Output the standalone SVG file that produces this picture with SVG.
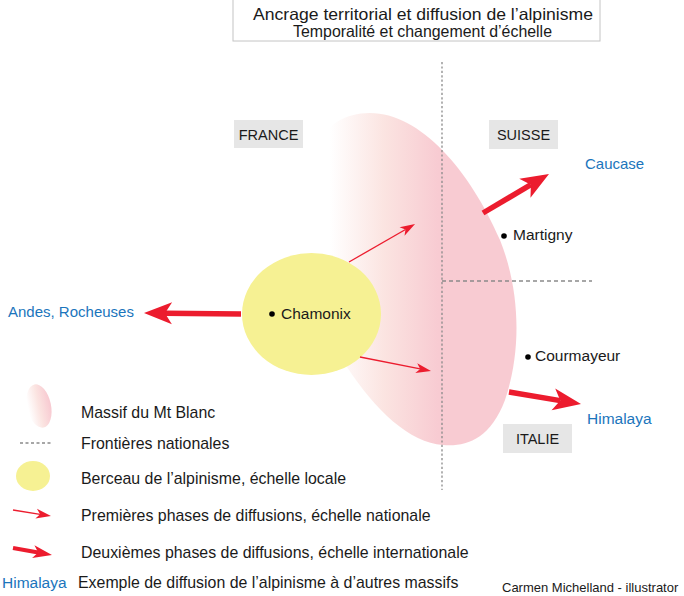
<svg xmlns="http://www.w3.org/2000/svg" width="684" height="596" viewBox="0 0 684 596">
<style>
text{font-family:"Liberation Sans",Arial,sans-serif;fill:#1a1a1a}
.lbl{font-size:15.5px}
.leg{font-size:15.9px}
.cap{font-size:14.5px}
.blue{fill:#1b75bc}
.box{fill:#e6e6e6}
.dot{fill:#000}
.thin{stroke:#ec1c2e;stroke-width:1.3;fill:none;marker-end:url(#headThin)}
.thick{stroke:#ec1c2e;stroke-width:5.5;fill:none;marker-end:url(#headThick)}
.border{stroke:#8a8a8a;stroke-width:1.3;fill:none}
</style>
<defs>
<linearGradient id="massifGrad" gradientUnits="userSpaceOnUse" x1="330" y1="0" x2="438" y2="0">
<stop offset="0" stop-color="#ffffff"/>
<stop offset="0.5" stop-color="#fbe4e1"/>
<stop offset="1" stop-color="#f8cbd2"/>
</linearGradient>
<linearGradient id="legGrad" gradientUnits="userSpaceOnUse" x1="28" y1="0" x2="50" y2="0">
<stop offset="0" stop-color="#ffffff"/>
<stop offset="0.5" stop-color="#fbe4e1"/>
<stop offset="1" stop-color="#f8cbd2"/>
</linearGradient>
<marker id="headThin" markerUnits="userSpaceOnUse" markerWidth="15" markerHeight="10" refX="4" refY="5" orient="auto" overflow="visible">
<path d="M15,5 L0,0 L4,5 L0,10 Z" fill="#ec1c2e"/>
</marker>
<marker id="headThick" markerUnits="userSpaceOnUse" markerWidth="28" markerHeight="22" refX="7" refY="11" orient="auto" overflow="visible">
<path d="M28,11 L0,0 L7,11 L0,22 Z" fill="#ec1c2e"/>
</marker>
<marker id="headLeg" markerUnits="userSpaceOnUse" markerWidth="19" markerHeight="13" refX="5" refY="6.5" orient="auto" overflow="visible">
<path d="M19,6.5 L0,0 L5,6.5 L0,13 Z" fill="#ec1c2e"/>
</marker>
</defs>

<g id="title">
<rect x="233" y="-1" width="367" height="42" fill="#fff" stroke="#c4c4c4" stroke-width="1"/>
<text x="253" y="20" textLength="340" lengthAdjust="spacingAndGlyphs" style="font-size:16.5px">Ancrage territorial et diffusion de l’alpinisme</text>
<text x="293" y="37" textLength="259" lengthAdjust="spacingAndGlyphs" style="font-size:16.5px">Temporalité et changement d’échelle</text>
</g>

<g id="massif">
<path d="M370,113 C420,113 470,170 500,240 C520,290 522,350 505,400 C490,440 465,447 443,445 C410,443 375,410 347,367 C320,330 300,270 300,220 C300,160 320,113 370,113 Z" fill="url(#massifGrad)"/>
</g>

<g id="borders">
<line class="border" x1="442" y1="62" x2="442" y2="490" stroke-dasharray="2.2 2.2"/>
<line class="border" x1="442" y1="281" x2="592" y2="281" stroke-dasharray="4 3"/>
</g>

<g id="chamonix">
<ellipse cx="311.5" cy="314" rx="69.5" ry="61" fill="#f6f193"/>
<circle class="dot" cx="272" cy="314" r="2.8"/>
<text class="lbl" x="281" y="319">Chamonix</text>
</g>

<g id="france">
<rect class="box" x="234" y="120" width="69" height="28"/>
<text class="cap" x="268.5" y="139.5" text-anchor="middle">FRANCE</text>
</g>
<g id="suisse">
<rect class="box" x="489" y="120" width="69" height="29"/>
<text class="cap" x="523.5" y="140" text-anchor="middle">SUISSE</text>
</g>
<g id="italie">
<rect class="box" x="503" y="424" width="69" height="29"/>
<text class="cap" x="537.5" y="444" text-anchor="middle">ITALIE</text>
</g>

<g id="martigny">
<circle class="dot" cx="504" cy="236" r="2.8"/>
<text class="lbl" x="513" y="240">Martigny</text>
</g>
<g id="courmayeur">
<circle class="dot" cx="528" cy="357" r="2.8"/>
<text class="lbl" x="535" y="361">Courmayeur</text>
</g>
<g id="caucase">
<text class="lbl blue" x="585" y="169" style="font-size:15px">Caucase</text>
</g>
<g id="himalaya">
<text class="lbl blue" x="587" y="424">Himalaya</text>
</g>
<g id="andes">
<text class="lbl blue" x="8" y="317" style="font-size:15px">Andes, Rocheuses</text>
</g>

<g id="connectors">
<line class="thin" x1="349" y1="262" x2="405.5" y2="229.5"/>
<line class="thin" x1="360" y1="357" x2="420.2" y2="368.9"/>
<line class="thick" x1="483" y1="213" x2="530.9" y2="184.7"/>
<line class="thick" x1="509" y1="392" x2="560.3" y2="400.6"/>
<line class="thick" x1="241" y1="314" x2="165" y2="313.2"/>
</g>

<g id="legend">
<ellipse cx="39" cy="406" rx="12" ry="22" transform="rotate(-12 39 406)" fill="url(#legGrad)"/>
<text class="leg" x="81" y="418">Massif du Mt Blanc</text>
<line class="border" x1="20" y1="443" x2="53" y2="443" stroke-dasharray="3 2.5" stroke-width="1"/>
<text class="leg" x="81" y="449">Frontières nationales</text>
<ellipse cx="33" cy="476" rx="17" ry="15" fill="#f6f193"/>
<text class="leg" x="81" y="484">Berceau de l’alpinisme, échelle locale</text>
<line class="thin" x1="13" y1="510" x2="40.1" y2="514.3"/>
<text class="leg" x="81" y="521">Premières phases de diffusions, échelle nationale</text>
<line x1="13" y1="548" x2="38.2" y2="552.5" stroke="#ec1c2e" stroke-width="4" marker-end="url(#headLeg)"/>
<text class="leg" x="81" y="558">Deuxièmes phases de diffusions, échelle internationale</text>
<text class="leg blue" x="2" y="588" style="font-size:15.5px">Himalaya</text>
<text class="leg" x="78" y="588">Exemple de diffusion de l’alpinisme à d’autres massifs</text>
</g>

<g id="credit">
<text x="502" y="592" style="font-size:13px">Carmen Michelland - illustrator</text>
</g>
</svg>
